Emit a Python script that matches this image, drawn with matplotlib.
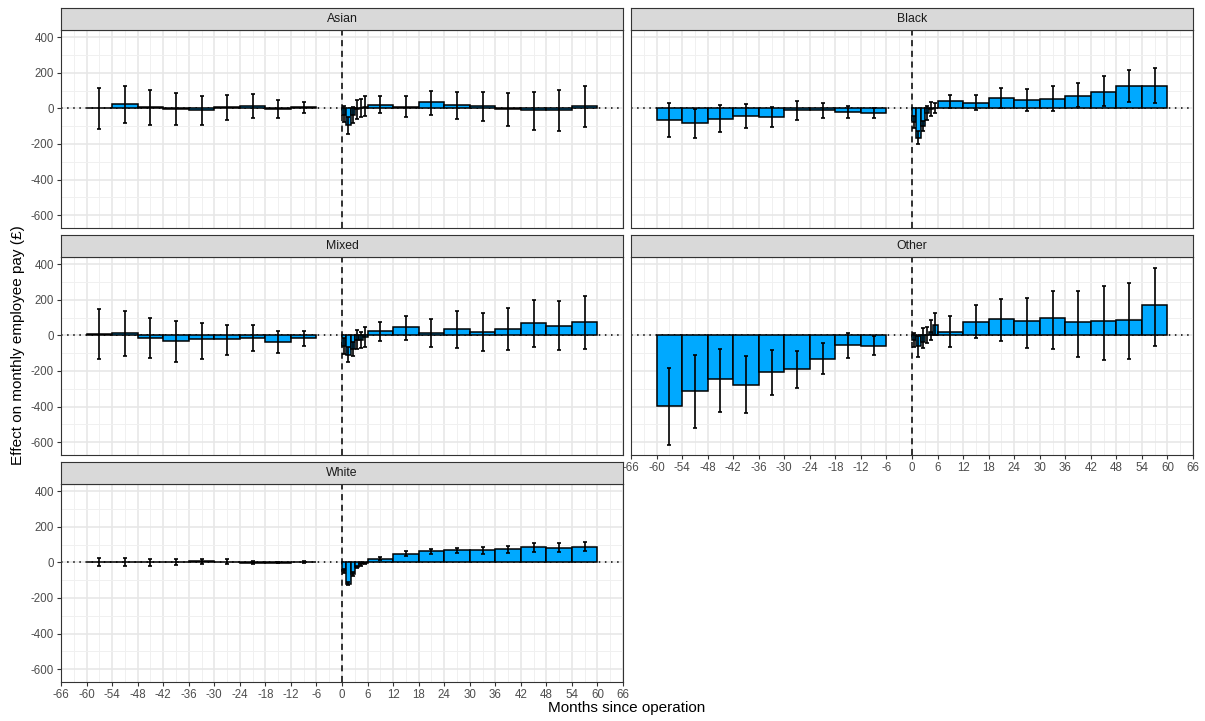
import matplotlib
matplotlib.use("Agg")
import matplotlib.pyplot as plt
import numpy as np
from matplotlib.ticker import MultipleLocator

plt.rcParams['font.family'] = ['Liberation Sans', 'DejaVu Sans']
plt.rcParams['axes.unicode_minus'] = False

# bins in months since operation: 6-month pre bins, monthly bins 0-6, 6-month post bins
bin_lo = [-60, -54, -48, -42, -36, -30, -24, -18, -12,
          0, 1, 2, 3, 4, 5,
          6, 12, 18, 24, 30, 36, 42, 48, 54]
bin_hi = [-54, -48, -42, -36, -30, -24, -18, -12, -6,
          1, 2, 3, 4, 5, 6,
          12, 18, 24, 30, 36, 42, 48, 54, 60]

groups = ["Asian", "Black", "Mixed", "Other", "White"]

asian_est = [0, 23, 5, -4, -10, 5, 11, -2, 5,
             -40, -95, -35, -5, 2, 10,
             21, 9, 34, 21, 13, -2, -11, -9, 11]
asian_lo = [-115, -83, -92, -94, -96, -64, -57, -53, -26,
            -75, -145, -80, -62, -51, -43,
            -28, -49, -40, -58, -70, -98, -119, -128, -106]
asian_hi = [113, 128, 102, 85, 72, 74, 79, 49, 36,
            15, -50, 10, 47, 55, 68,
            70, 68, 98, 94, 94, 85, 89, 104, 125]

black_est = [-66, -81, -58, -43, -47, -11, -9, -21, -26,
             -75, -165, -100, -25, -3, 0,
             40, 30, 60, 47, 55, 70, 94, 123, 128]
black_lo = [-160, -164, -132, -109, -106, -66, -57, -57, -55,
            -108, -200, -130, -66, -43, -28,
            0, -11, 4, -15, -15, 9, 11, 34, 28]
black_hi = [30, -4, 19, 25, 9, 40, 32, 15, 2,
            -43, -130, -70, 13, 37, 28,
            77, 75, 115, 109, 123, 145, 179, 213, 228]

mixed_est = [6, 13, -15, -30, -22, -22, -13, -36, -15,
             -60, -110, -75, -25, -25, -10,
             22, 45, 11, 36, 19, 36, 69, 54, 75]
mixed_lo = [-133, -114, -129, -150, -131, -109, -88, -97, -58,
            -105, -152, -115, -77, -69, -68,
            -30, -24, -64, -73, -88, -84, -64, -81, -75]
mixed_hi = [146, 139, 99, 79, 70, 58, 58, 26, 24,
            -15, -68, -35, 32, 21, 47,
            77, 109, 90, 139, 127, 155, 199, 191, 221]

other_est = [-397, -311, -247, -279, -208, -191, -131, -56, -58,
             -25, -60, -35, 0, 20, 60,
             21, 77, 94, 79, 96, 73, 79, 84, 169]
other_lo = [-616, -522, -431, -438, -333, -298, -217, -127, -112,
            -67, -120, -73, -45, -26, 2,
            -64, -15, -32, -70, -77, -124, -137, -135, -58]
other_hi = [-182, -112, -77, -116, -82, -86, -45, 15, -6,
            11, -2, 39, 49, 86, 127,
            109, 172, 204, 212, 247, 251, 277, 294, 380]

white_est = [0, 0, 0, 0, 5, 3, -2, -1, 1,
             -50, -120, -65, -25, -12, -5,
             21, 49, 64, 69, 67, 75, 84, 82, 86]
white_lo = [-22, -19, -19, -17, -11, -9, -10, -6, -3,
            -62, -130, -75, -32, -18, -9,
            13, 34, 49, 54, 49, 54, 60, 58, 62]
white_hi = [24, 22, 21, 21, 21, 17, 6, 4, 5,
            -38, -110, -55, -18, -6, -1,
            30, 62, 77, 83, 84, 94, 107, 107, 112]

values = {
    "Asian": (asian_est, asian_lo, asian_hi),
    "Black": (black_est, black_lo, black_hi),
    "Mixed": (mixed_est, mixed_lo, mixed_hi),
    "Other": (other_est, other_lo, other_hi),
    "White": (white_est, white_lo, white_hi),
}

W, H = 1205, 721
fig = plt.figure(figsize=(W / 100, H / 100), dpi=100)

col_left = [61, 631]
panel_w = 562
row_top = [30, 257, 484]
panel_h = 198
strip_h = 22

bar_col = "#00A9FF"
dark = "#333333"


def px_axes(x, y, w, h):
    return fig.add_axes([x / W, 1 - (y + h) / H, w / W, h / H])


for i, g in enumerate(groups):
    r, c = divmod(i, 2)
    x0, y0 = col_left[c], row_top[r]
    ax = px_axes(x0, y0, panel_w, panel_h)

    est, lo, hi = (np.array(v, dtype=float) for v in values[g])
    left = np.array(bin_lo, dtype=float)
    width = np.array(bin_hi, dtype=float) - left
    mid = left + width / 2

    ax.axhline(0, color="black", lw=1.1, ls=(0, (1, 3)), zorder=1)
    ax.axvline(0, color="black", lw=1.1, ls=(0, (4, 3)), zorder=1)
    ax.bar(left, est, width=width, align="edge", color=bar_col,
           edgecolor="black", linewidth=1.1, zorder=2)
    ax.errorbar(mid, est, yerr=[est - lo, hi - est], fmt="none",
                ecolor="black", elinewidth=1.2, capsize=1.7,
                capthick=1.2, zorder=3)

    ax.set_xlim(-66, 66)
    ax.set_ylim(-672, 440)
    ax.xaxis.set_major_locator(MultipleLocator(6))
    ax.xaxis.set_minor_locator(MultipleLocator(3))
    ax.yaxis.set_major_locator(MultipleLocator(200))
    ax.yaxis.set_minor_locator(MultipleLocator(100))
    ax.set_axisbelow(True)
    ax.grid(which="major", color="#E6E6E6", lw=1.1)
    ax.grid(which="minor", color="#F0F0F0", lw=0.7)
    for s in ax.spines.values():
        s.set_color(dark)
        s.set_linewidth(0.8)
    ax.tick_params(which="minor", length=0)
    ax.tick_params(which="major", length=3, color=dark, width=0.8,
                   labelsize=8.3, labelcolor="#4D4D4D", pad=2)

    if c == 1:
        ax.tick_params(axis="y", left=False, labelleft=False)
    ax.set_xticks(np.arange(-66, 67, 6))
    ax.set_xticklabels([str(v) for v in np.arange(-66, 67, 6)])
    if g not in ("Other", "White"):
        ax.tick_params(axis="x", bottom=False, labelbottom=False)

    sax = px_axes(x0, y0 - strip_h, panel_w, strip_h)
    sax.set_facecolor("#D9D9D9")
    sax.set_xticks([])
    sax.set_yticks([])
    for s in sax.spines.values():
        s.set_color(dark)
        s.set_linewidth(0.8)
    sax.text(0.5, 0.5, g, ha="center", va="center", fontsize=8.8,
             color="#1A1A1A", transform=sax.transAxes)

fig.text(627 / W, 1 - 708 / H, "Months since operation", ha="center",
         va="center", fontsize=11)
fig.text(18 / W, 1 - 345 / H, "Effect on monthly employee pay (£)",
         ha="center", va="center", rotation=90, fontsize=11)

fig.savefig("out.png", dpi=100, facecolor="white")
